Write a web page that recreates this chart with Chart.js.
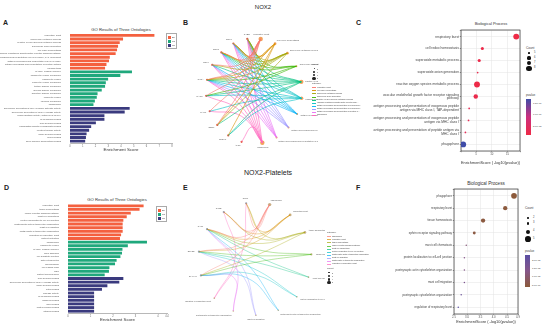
<!DOCTYPE html>
<html>
<head>
<meta charset="utf-8">
<title>NOX2 GO enrichment</title>
<script src="https://cdn.jsdelivr.net/npm/chart.js@4.4.1/dist/chart.umd.min.js"></script>
<style>
  body { margin: 0; width: 550px; height: 329px; background: #fff; position: relative; overflow: hidden;
         font-family: "Liberation Sans", Arial, sans-serif; color: #222; }
  .box { position: absolute; }
  .tag { position: absolute; font-weight: bold; font-size: 7px; line-height: 1; }
  .head { position: absolute; transform: translateX(-50%); white-space: nowrap; line-height: 1; color: #222; }
  .ptitle { position: absolute; transform: translate(-50%, -50%); white-space: nowrap; color: #333; line-height: 1; }
  .leg { position: absolute; color: #444; line-height: 1; white-space: nowrap; }
</style>
</head>
<body>
<div class="head" style="left:263px;top:4px;font-size:6px;">NOX2</div>
<div class="head" style="left:268px;top:169px;font-size:7px;">NOX2-Platelets</div>
<div class="tag" style="left:3px;top:19px;">A</div>
<div class="tag" style="left:183px;top:19px;">B</div>
<div class="tag" style="left:356px;top:19px;">C</div>
<div class="tag" style="left:4px;top:184px;">D</div>
<div class="tag" style="left:183px;top:184px;">E</div>
<div class="tag" style="left:356px;top:184px;">F</div>

<div class="ptitle" style="left:121px;top:30px;font-size:4.2px;">GO Results of Three Ontologies</div>
<div class="ptitle" style="left:117px;top:200px;font-size:4.2px;">GO Results of Three Ontologies</div>
<div class="ptitle" style="left:491px;top:24px;font-size:4px;">Biological Process</div>
<div class="ptitle" style="left:486px;top:184px;font-size:4.6px;">Biological Process</div>

<div class="box" style="left:0;top:26px;width:180px;height:127px;"><canvas id="chartA"></canvas></div>
<div class="box" style="left:0;top:193px;width:180px;height:135px;"><canvas id="chartD"></canvas></div>
<div class="box" style="left:190px;top:26px;width:128px;height:130px;"><canvas id="chartB"></canvas></div>
<div class="box" style="left:185px;top:194px;width:140px;height:130px;"><canvas id="chartE"></canvas></div>
<div class="box" style="left:362px;top:18px;width:162px;height:150px;"><canvas id="chartC"></canvas></div>
<div class="box" style="left:362px;top:182px;width:162px;height:146px;"><canvas id="chartF"></canvas></div>

<div id="legA" class="leg"></div>
<div id="legD" class="leg"></div>
<div id="legB" class="leg"></div>
<div id="legE" class="leg"></div>
<div id="legC" class="leg"></div>
<div id="legF" class="leg"></div>

<script>
// ---------- data ----------
const ontologies = ['BP', 'CC', 'MF'];

const termsA = [
  'respiratory burst', 'superoxide metabolic process', 'reactive oxygen species metabolic process',
  'superoxide anion generation', 'cell redox homeostasis', 'vascular endothelial growth factor receptor signaling pathway',
  'antigen processing and presentation via MHC class I, TAP-dependent', 'antigen processing and presentation via MHC class I',
  'antigen processing and presentation of peptide antigen', 'phagocytosis',
  'NADPH oxidase complex', 'phagocytic vesicle membrane', 'phagocytic vesicle', 'endocytic vesicle membrane',
  'tertiary granule membrane', 'specific granule membrane', 'secretory granule membrane', 'endocytic vesicle',
  'vacuolar membrane', 'phagophore',
  'superoxide-generating NADPH oxidase activator activity', 'superoxide-generating NAD(P)H oxidase activity',
  'oxidoreductase activity, acting on NAD(P)H', 'SH3 domain binding', 'Rac GTPase binding',
  'phosphatidylinositol-3-phosphate binding', 'electron transfer activity', 'small GTPase binding',
  'heme binding', 'flavin adenine dinucleotide binding'
];
const scoresA = [6.62, 4.16, 3.90, 3.77, 3.69, 3.58, 3.12, 3.06, 2.86, 2.75,
                 4.86, 3.95, 2.99, 2.81, 2.75, 2.49, 2.16, 2.10, 1.95, 1.84,
                 4.68, 4.29, 2.70, 2.70, 2.03, 1.66, 1.50, 1.30, 1.25, 1.19];

const termsD = [
  'respiratory burst', 'tissue homeostasis', 'ephrin receptor signaling pathway', 'mast cell chemotaxis',
  'protein localization to cell-cell junction', 'postsynaptic actin cytoskeleton organization', 'mast cell migration',
  'postsynaptic cytoskeleton organization', 'regulation of respiratory burst', 'platelet activation',
  'phagophore', 'phagocytic vesicle', 'NADPH oxidase complex', 'focal adhesion', 'cell-substrate junction',
  'actin cytoskeleton', 'lamellipodium', 'cell leading edge', 'ruffle', 'platelet alpha granule',
  'Rac GTPase binding', 'superoxide-generating NAD(P)H oxidase activity', 'small GTPase binding', 'actin binding',
  'GTPase activity', 'SH3 domain binding', 'cadherin binding', 'GTP binding', 'protein kinase binding', 'integrin binding'
];
const scoresD = [3.36, 3.18, 2.79, 2.61, 2.46, 2.43, 2.43, 2.43, 2.36, 2.31,
                 3.51, 2.66, 2.42, 2.40, 2.33, 2.16, 2.09, 1.84, 1.82, 1.63,
                 2.46, 2.28, 1.75, 1.51, 1.16, 1.16, 1.16, 1.16, 1.16, 1.16];

const termsC = [
  'respiratory burst', 'cell redox homeostasis', 'superoxide metabolic process', 'superoxide anion generation',
  'reactive oxygen species metabolic process', 'vascular endothelial growth factor receptor signaling pathway',
  'antigen processing and presentation of exogenous peptide antigen via MHC class I, TAP-dependent',
  'antigen processing and presentation of exogenous peptide antigen via MHC class I',
  'antigen processing and presentation of peptide antigen via MHC class I', 'phagophore'
];
const scoreC = [17.8, 7.0, 6.0, 5.5, 5.3, 4.9, 2.8, 2.6, 1.6, 0.9];
const countC = [8, 6, 6, 5, 8, 7, 5, 5, 5, 8];
const pvalC = [1.5e-8, 2.0e-8, 2.2e-8, 2.6e-8, 1.8e-8, 2.4e-8, 3.4e-8, 3.6e-8, 3.8e-8, 1.72e-7];
const countLevelsC = [5, 6, 7, 8];
const pvalTicksC = [1.5e-7, 1.0e-7, 5.0e-8];

const termsF = [
  'phagophore', 'respiratory burst', 'tissue homeostasis', 'ephrin receptor signaling pathway', 'mast cell chemotaxis',
  'protein localization to cell-cell junction', 'postsynaptic actin cytoskeleton organization', 'mast cell migration',
  'postsynaptic cytoskeleton organization', 'regulation of respiratory burst'
];
const scoreF = [4.76, 4.43, 3.60, 3.27, 2.97, 2.90, 2.90, 2.90, 2.78, 2.67];
const countF = [5, 4, 4, 3, 2, 2, 2, 2, 2, 2];
const pvalF = [4.5e-6, 5.0e-6, 5.2e-6, 5.6e-6, 1.2e-5, 1.4e-5, 1.4e-5, 1.6e-5, 2.0e-5, 2.35e-5];
const countLevelsF = [2, 3, 4, 5];
const pvalTicksF = [2.0e-5, 1.5e-5, 1.0e-5, 5.0e-6];

// chord diagrams: genes on the left arc, terms (same order as C / F) on the right
const genesB = ['CYBB', 'NCF1', 'NCF2', 'NCF4', 'CYBA', 'RAC2', 'RAC1', 'SOD1', 'PRDX1', 'ATG7'];
const linksB = [
  [0, 1, 2, 3, 4, 5, 6, 7], [0, 1, 2, 4, 7, 8], [0, 1, 2, 3, 4, 7], [0, 1, 2, 4, 5],
  [0, 1, 2, 3, 4, 5, 7, 8], [0, 1, 2, 4, 5, 6, 8], [0, 1, 2, 3, 4], [0, 1, 2, 3, 4],
  [0, 1, 2, 3, 4], [0, 1, 2, 3, 4, 5, 6, 9]
];
const genesE = ['NCF1', 'CYBB', 'RAC1', 'EPHB2', 'DIAPH1'];
const linksE = [
  [0, 1, 2, 3, 4], [0, 1, 2, 3], [0, 1, 2, 4], [2, 3, 4], [2, 3],
  [3, 4], [2, 4], [2, 3], [2, 4], [0, 1]
];

const barColors = ['#F4603F', '#1FA87C', '#3A3A7E'];
const termPalette = ['#F8766D', '#D89000', '#A3A500', '#39B600', '#00BF7D',
                     '#00BFC4', '#00B0F6', '#9590FF', '#E76BF3', '#FF62BC'];

// ---------- helpers ----------
Chart.defaults.font.family = '"Liberation Sans", Arial, sans-serif';
Chart.defaults.color = '#444';

function hexRgb(h) {
  return [1, 3, 5].map(i => parseInt(h.slice(i, i + 2), 16));
}
function alpha(h, a) {
  const [r, g, b] = hexRgb(h);
  return `rgba(${r},${g},${b},${a})`;
}
function mix(stops, t) {
  // stops: colours from low to high
  t = Math.max(0, Math.min(1, t));
  const seg = t * (stops.length - 1);
  const k = Math.min(stops.length - 2, Math.floor(seg));
  const f = seg - k;
  const a = hexRgb(stops[k]), b = hexRgb(stops[k + 1]);
  return `rgb(${a.map((v, i) => Math.round(v + (b[i] - v) * f)).join(',')})`;
}
function wrap(text, width) {
  const lines = [];
  let cur = '';
  text.split(' ').forEach(w => {
    if (cur && (cur + ' ' + w).length > width) { lines.push(cur); cur = w; }
    else cur = cur ? cur + ' ' + w : w;
  });
  lines.push(cur);
  return lines;
}

const panelBox = {
  id: 'panelBox',
  beforeDatasetsDraw(chart) {
    const { ctx, chartArea: a } = chart;
    ctx.save();
    ctx.strokeStyle = '#333';
    ctx.lineWidth = 0.7;
    ctx.strokeRect(a.left, a.top, a.right - a.left, a.bottom - a.top);
    ctx.restore();
  }
};

function goBar(id, terms, scores, xMax, geo) {
  new Chart(document.getElementById(id), {
    type: 'bar',
    data: {
      labels: terms,
      datasets: ontologies.map((name, k) => ({
        label: name,
        data: scores.map((v, i) => (Math.floor(i / 10) === k ? v : null)),
        backgroundColor: barColors[k],
        grouped: false,
        barPercentage: 0.78,
        categoryPercentage: 1
      }))
    },
    options: {
      indexAxis: 'y',
      responsive: true,
      maintainAspectRatio: false,
      animation: false,
      devicePixelRatio: 1,
      layout: { padding: { top: geo.top, right: geo.right, left: 0, bottom: 0 } },
      plugins: { legend: { display: false }, tooltip: { enabled: false } },
      scales: {
        y: {
          grid: { display: false },
          border: { display: false },
          ticks: { autoSkip: false, font: { size: 2.3 }, color: '#555', padding: 1 },
          afterFit: s => { s.width = geo.left; }
        },
        x: {
          min: 0, max: xMax,
          grid: { display: false, drawTicks: true, tickLength: 1.5 },
          border: { color: '#888', width: 0.6 },
          ticks: { stepSize: 1, font: { size: 2.6 }, color: '#666', padding: 0.5 },
          title: { display: true, text: 'Enrichment Score', font: { size: 4.4 }, color: '#333',
                   padding: { top: 0, bottom: geo.titlePad } },
          afterFit: s => { s.height = geo.bottom; }
        }
      }
    }
  });
}

function barLegend(id, left, top, colors) {
  const el = document.getElementById(id);
  el.style.left = left + 'px';
  el.style.top = top + 'px';
  el.style.border = '0.5px solid #aaa';
  el.style.padding = '1px';
  el.innerHTML = ontologies.map((o, k) =>
    `<div style="display:flex;align-items:center;height:4px;font-size:2.2px;">` +
    `<span style="display:inline-block;width:3px;height:3px;background:${colors[k]};margin-right:1px"></span>${o}</div>`
  ).join('');
}

function dotPlot(id, terms, scores, counts, pvals, cfg) {
  const pMin = Math.min(...pvals), pMax = Math.max(...pvals);
  const colour = p => mix(cfg.colors, (p - pMin) / (pMax - pMin));
  new Chart(document.getElementById(id), {
    type: 'bubble',
    data: {
      datasets: [{
        data: terms.map((t, i) => ({ x: scores[i], y: i, r: cfg.radius(counts[i]) })),
        backgroundColor: pvals.map(colour),
        borderWidth: 0
      }]
    },
    options: {
      responsive: true,
      maintainAspectRatio: false,
      animation: false,
      devicePixelRatio: 1,
      layout: { padding: { top: cfg.top, right: cfg.right, left: 0, bottom: 0 } },
      plugins: { legend: { display: false }, tooltip: { enabled: false } },
      scales: {
        x: {
          min: cfg.xMin, max: cfg.xMax,
          ticks: { stepSize: cfg.step, font: { size: 2.8 }, color: '#555', padding: 0.6,
                   callback: v => cfg.tickFmt(v) },
          grid: { color: '#e3e3e3', lineWidth: 0.5, drawTicks: true, tickLength: 1.2, tickColor: '#333' },
          border: { display: false },
          title: { display: true, text: 'EnrichmentScore ( -log10(pvalue))', font: { size: 3.9 }, color: '#333',
                   padding: { top: 0, bottom: cfg.titlePad } },
          afterFit: s => { s.height = cfg.bottom; }
        },
        y: {
          min: -0.55, max: terms.length - 0.45, reverse: true,
          ticks: { stepSize: 1, autoSkip: false, font: { size: cfg.labelSize, lineHeight: 1.15 }, color: '#444',
                   padding: 0.8,
                   callback: v => (Number.isInteger(v) && terms[v] ? wrap(terms[v], 58) : '') },
          grid: { color: '#e3e3e3', lineWidth: 0.5, drawTicks: true, tickLength: 1.2, tickColor: '#333' },
          border: { display: false },
          afterFit: s => { s.width = cfg.left; }
        }
      }
    },
    plugins: [panelBox]
  });
}

function dotLegend(id, cfg) {
  const el = document.getElementById(id);
  el.style.left = cfg.x + 'px';
  el.style.top = cfg.y + 'px';
  let html = `<div style="position:absolute;left:0;top:0;font-size:3.2px;">Count</div>`;
  cfg.levels.forEach((c, i) => {
    const r = cfg.radius(c);
    const cy = cfg.countY[i];
    html += `<div style="position:absolute;left:${3 - r}px;top:${cy - r}px;width:${2 * r}px;height:${2 * r}px;border-radius:50%;background:#111"></div>` +
            `<div style="position:absolute;left:8px;top:${cy - 1.3}px;font-size:2.6px;">${c}</div>`;
  });
  html += `<div style="position:absolute;left:0;top:${cfg.barTop - 5}px;font-size:3.2px;">pvalue</div>`;
  html += `<div style="position:absolute;left:0;top:${cfg.barTop}px;width:5px;height:${cfg.barH}px;` +
          `background:linear-gradient(to bottom, ${cfg.colors.slice().reverse().join(',')})"></div>`;
  const pMin = Math.min(...cfg.pvals), pMax = Math.max(...cfg.pvals);
  cfg.ticks.forEach(p => {
    const ty = cfg.barTop + (pMax - p) / (pMax - pMin) * cfg.barH;
    html += `<div style="position:absolute;left:5px;top:${ty - 0.25}px;width:1px;height:0.5px;background:#fff"></div>` +
            `<div style="position:absolute;left:7px;top:${ty - 1.3}px;font-size:2.5px;">${p.toExponential(1).replace(/e([+-])(\d)$/, 'e$10$2')}</div>`;
  });
  el.innerHTML = html;
}

const nodeLabels = {
  id: 'nodeLabels',
  afterDatasetsDraw(chart, args, opts) {
    const { ctx, scales: { x, y } } = chart;
    ctx.save();
    ctx.font = `${opts.size}px "Liberation Sans", Arial, sans-serif`;
    ctx.fillStyle = '#555';
    ctx.textBaseline = 'middle';
    opts.items.forEach(it => {
      const px = x.getPixelForValue(it.x * 1.08), py = y.getPixelForValue(it.y * 1.08);
      ctx.textAlign = it.x < -0.25 ? 'right' : (it.x > 0.25 ? 'left' : 'center');
      ctx.fillText(it.text, px, py);
    });
    ctx.restore();
  }
};

function chord(id, genes, terms, links, counts, cfg) {
  const polar = deg => ({ x: Math.cos(deg * Math.PI / 180), y: Math.sin(deg * Math.PI / 180) });
  const spread = (n, a0, a1) => Array.from({ length: n }, (_, i) => polar(a0 + (a1 - a0) * i / (n - 1)));
  const gPos = spread(genes.length, cfg.geneArc[0], cfg.geneArc[1]);
  const tPos = spread(terms.length, cfg.termArc[0], cfg.termArc[1]);
  const datasets = [];
  links.forEach((list, t) => list.forEach(g => {
    const a = gPos[g], b = tPos[t];
    const mid = { x: (a.x + b.x) / 2 * cfg.bend, y: (a.y + b.y) / 2 * cfg.bend };
    datasets.push({
      data: [a, mid, b], showLine: true, fill: false, tension: 0.45,
      borderColor: alpha(termPalette[t], cfg.lineAlpha), borderWidth: cfg.lineWidth, pointRadius: 0
    });
  }));
  datasets.push({ data: gPos, pointRadius: 1.1, backgroundColor: cfg.geneColor, borderWidth: 0 });
  datasets.push({ data: tPos, pointRadius: counts.map(c => cfg.nodeR(c)), backgroundColor: cfg.termColor, borderWidth: 0 });
  const items = gPos.map((p, i) => ({ x: p.x, y: p.y, text: genes[i] }))
    .concat(tPos.map((p, i) => ({ x: p.x, y: p.y, text: terms[i] })));
  new Chart(document.getElementById(id), {
    type: 'scatter',
    data: { datasets },
    options: {
      responsive: true,
      maintainAspectRatio: false,
      animation: false,
      devicePixelRatio: 1,
      layout: { padding: 0 },
      plugins: { legend: { display: false }, tooltip: { enabled: false },
                 nodeLabels: { size: cfg.labelSize, items } },
      scales: {
        x: { display: false, min: -cfg.rx, max: cfg.rx },
        y: { display: false, min: -cfg.ry, max: cfg.ry }
      }
    },
    plugins: [nodeLabels]
  });
}

function chordLegend(id, x, y, terms, levels, nodeR, countFirst, lineAlpha) {
  const el = document.getElementById(id);
  el.style.left = x + 'px';
  el.style.top = y + 'px';
  const countBlock = (y0) => {
    let h = `<div style="position:absolute;left:0;top:${y0}px;font-size:2.4px;">Count</div>`;
    levels.forEach((c, i) => {
      const r = nodeR(c), cy = y0 + 4.5 + i * 3.3;
      h += `<div style="position:absolute;left:${2 - r}px;top:${cy - r}px;width:${2 * r}px;height:${2 * r}px;border-radius:50%;background:#222"></div>` +
           `<div style="position:absolute;left:5px;top:${cy - 1}px;font-size:2px;">${c}</div>`;
    });
    return h;
  };
  const catBlock = (y0) => {
    let h = `<div style="position:absolute;left:0;top:${y0}px;font-size:2.4px;">category</div>`;
    terms.forEach((t, i) => {
      const cy = y0 + 4.5 + i * 3.1;
      h += `<div style="position:absolute;left:0;top:${cy - 0.3}px;width:4px;height:0.7px;background:${alpha(termPalette[i], lineAlpha)}"></div>` +
           `<div style="position:absolute;left:5px;top:${cy - 1}px;font-size:1.9px;">${t.length > 48 ? t.slice(0, 48) + '…' : t}</div>`;
    });
    return h;
  };
  el.innerHTML = countFirst ? countBlock(0) + catBlock(19) : catBlock(0) + countBlock(36);
}

// ---------- panels ----------
goBar('chartA', termsA, scoresA, 8, { left: 70, right: 8, top: 7.5, bottom: 10, titlePad: 0.5 });
barLegend('legA', 166, 33, barColors);

goBar('chartD', termsD, scoresD, 4.4, { left: 68, right: 13, top: 11, bottom: 15, titlePad: 6 });
barLegend('legD', 156, 206, barColors);

const colorsC = ['#EE2A46', '#CC2F7E', '#3F4CA8'];
const radiusC = c => 0.5 + (c - 4.5) * 0.7;
dotPlot('chartC', termsC, scoreC, countC, pvalC, {
  colors: colorsC, radius: radiusC, xMin: 0.2, xMax: 19, step: 5, tickFmt: v => (v % 5 === 0 && v > 0 ? v : ''),
  left: 99, right: 4, top: 12, bottom: 17, titlePad: 3, labelSize: 3.3
});
dotLegend('legC', {
  x: 526, y: 47, levels: countLevelsC, radius: radiusC, countY: [6, 11, 16, 21.5],
  colors: colorsC, pvals: pvalC, ticks: pvalTicksC, barTop: 52, barH: 36
});

const colorsF = ['#8C5A3A', '#86568A', '#5B4FA3'];
const radiusF = c => 0.4 + (c - 1.5) * 0.7;
dotPlot('chartF', termsF, scoreF, countF, pvalF, {
  colors: colorsF, radius: radiusF, xMin: 2.51, xMax: 4.91, step: 0.5, tickFmt: v => v.toFixed(1),
  left: 92, right: 6, top: 7, bottom: 14, titlePad: 4, labelSize: 2.9
});
dotLegend('legF', {
  x: 525, y: 207, levels: countLevelsF, radius: radiusF, countY: [11, 16.3, 24.7, 32.3],
  colors: colorsF, pvals: pvalF, ticks: pvalTicksF, barTop: 48, barH: 32
});

chord('chartB', genesB, termsC, linksB, countC, {
  geneArc: [98, 255], termArc: [82, -80], bend: 0.7, rx: 1.25, ry: 1.16,
  lineAlpha: 0.75, lineWidth: 0.8, labelSize: 2.2, geneColor: '#E4573F', termColor: '#F2A25C',
  nodeR: c => 0.6 + (c - 4) * 0.4
});
chordLegend('legB', 312, 64, termsC, countLevelsC, c => 0.3 + (c - 4.5) * 0.4, true, 0.9);

chord('chartE', genesE, termsF, linksE, countF, {
  geneArc: [99, 197], termArc: [75, -136], bend: 0.55, rx: 1.167, ry: 1.083,
  lineAlpha: 0.5, lineWidth: 0.7, labelSize: 2.1, geneColor: '#9aa3b5', termColor: '#c9b28a',
  nodeR: c => 0.5 + (c - 1) * 0.3
});
chordLegend('legE', 327, 232, termsF, countLevelsF, c => 0.3 + (c - 1.5) * 0.45, false, 0.7);
</script>
</body>
</html>
